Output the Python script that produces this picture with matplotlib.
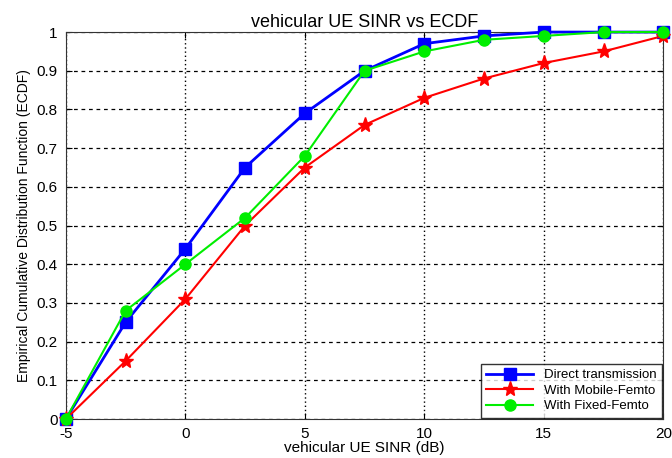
import numpy as np
import matplotlib
matplotlib.use("Agg")
import matplotlib.pyplot as plt

plt.rcParams["font.family"] = ["Liberation Sans", "DejaVu Sans"]
plt.rcParams["axes.unicode_minus"] = False

# SINR points (dB) and ECDF values
sinr = [-5, -2.5, 0, 2.5, 5, 7.5, 10, 12.5, 15, 17.5, 20]
direct = [0, 0.25, 0.44, 0.65, 0.79, 0.90, 0.97, 0.99, 1.0, 1.0, 1.0]
mobile = [0, 0.15, 0.31, 0.50, 0.65, 0.76, 0.83, 0.88, 0.92, 0.95, 0.99]
fixed = [0, 0.28, 0.40, 0.52, 0.68, 0.90, 0.95, 0.98, 0.99, 1.0, 1.0]

x_ticks = [-5, 0, 5, 10, 15, 20]
y_ticks = np.arange(0, 1.01, 0.1)
y_labels = ["0", "0.1", "0.2", "0.3", "0.4", "0.5", "0.6", "0.7", "0.8", "0.9", "1"]

fig = plt.figure(figsize=(6.72, 4.58), dpi=100)
ax = fig.add_axes([0.098, 0.085, 0.889, 0.845])

ax.plot(sinr, direct, color="#0000ff", lw=2, marker="s", ms=8,
        label="Direct transmission", clip_on=False, zorder=3)
ax.plot(sinr, mobile, color="#ff0000", lw=1.5, marker="*", ms=11,
        label="With Mobile-Femto", clip_on=False, zorder=3)
ax.plot(sinr, fixed, color="#00ee00", lw=1.5, marker="o", ms=8,
        label="With Fixed-Femto", clip_on=False, zorder=3)

ax.set_xlim(-5, 20)
ax.set_ylim(0, 1)
ax.set_xticks(x_ticks)
ax.set_yticks(y_ticks)
ax.set_yticklabels(y_labels)
ax.tick_params(direction="in", labelsize=11, length=4, top=True, right=True)
ax.tick_params(axis="x", pad=6)
ax.tick_params(axis="y", pad=6)
ax.xaxis.grid(True, color="black", linestyle=(0, (1, 2)), linewidth=1)
ax.yaxis.grid(True, color="black", linestyle=(0, (3, 3)), linewidth=0.9)
for s in ax.spines.values():
    s.set_color("#333333")

ax.set_title("vehicular UE SINR vs ECDF", fontsize=13, pad=4)
ax.set_xlabel("vehicular UE SINR (dB)", fontsize=11, labelpad=0)
ax.set_ylabel("Empirical Cumulative Distribution Function (ECDF)", fontsize=10, labelpad=4)

leg = ax.legend(loc="lower right", fontsize=9.5, fancybox=False, edgecolor="black",
                handlelength=3.6, borderaxespad=0.1, labelspacing=0.25)
leg.get_frame().set_linewidth(1)
leg.set_zorder(5)

fig.savefig("out.png", dpi=100)
